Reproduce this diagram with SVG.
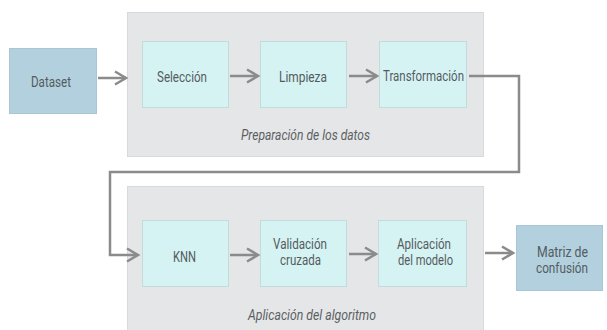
<svg xmlns="http://www.w3.org/2000/svg" width="607" height="330" viewBox="0 0 607 330">
<style>
.panel{fill:#e4e6e8;stroke:#d7d9db;stroke-width:1}
.step{fill:#d6f3f3;stroke:#c2dcdc;stroke-width:1}
.io{fill:#b2d0de;stroke:#a8c6d4;stroke-width:1}
text{font-family:Roboto,"Liberation Sans",sans-serif;font-size:14px;fill:#545b5f;text-anchor:middle}
.cap{font-style:italic;font-size:14px;fill:#5c5f62}
.conn{fill:none;stroke:#8b8b8b;stroke-width:2.5}
</style>
<defs>
<marker id="arr" markerUnits="userSpaceOnUse" markerWidth="16" markerHeight="16" viewBox="0 0 16 16" refX="13" refY="8" orient="auto">
<path d="M2,1.5 L13,8 L2,14.5" fill="none" stroke="#8b8b8b" stroke-width="2.5"/>
</marker>
</defs>
<g id="panel-preparacion">
<rect class="panel" x="127.5" y="12.5" width="356" height="144"/>
<text class="cap" x="305.5" y="139.5" textLength="129" lengthAdjust="spacingAndGlyphs">Preparación de los datos</text>
</g>
<g id="panel-aplicacion">
<rect class="panel" x="127.5" y="186.5" width="356" height="145"/>
<text class="cap" x="312" y="320" textLength="128" lengthAdjust="spacingAndGlyphs">Aplicación del algoritmo</text>
</g>
<g id="dataset">
<rect class="io" x="9.5" y="48.5" width="87" height="65"/>
<text x="51" y="87" textLength="40" lengthAdjust="spacingAndGlyphs">Dataset</text>
</g>
<g id="seleccion">
<rect class="step" x="142.5" y="41.5" width="86" height="66"/>
<text x="182" y="81.5" textLength="50" lengthAdjust="spacingAndGlyphs">Selección</text>
</g>
<g id="limpieza">
<rect class="step" x="260.5" y="41.5" width="86" height="66"/>
<text x="303" y="81.5" textLength="48" lengthAdjust="spacingAndGlyphs">Limpieza</text>
</g>
<g id="transformacion">
<rect class="step" x="379.5" y="41.5" width="87" height="66"/>
<text x="423.5" y="81" textLength="81" lengthAdjust="spacingAndGlyphs">Transformación</text>
</g>
<g id="knn">
<rect class="step" x="142.5" y="220.5" width="86" height="66"/>
<text x="184.5" y="262" textLength="23" lengthAdjust="spacingAndGlyphs">KNN</text>
</g>
<g id="validacion">
<rect class="step" x="260.5" y="220.5" width="86" height="66"/>
<text x="300" y="249" textLength="54" lengthAdjust="spacingAndGlyphs">Validación</text>
<text x="300.5" y="264.5" textLength="41" lengthAdjust="spacingAndGlyphs">cruzada</text>
</g>
<g id="aplicacion-modelo">
<rect class="step" x="378.5" y="220.5" width="88" height="66"/>
<text x="424" y="249" textLength="54" lengthAdjust="spacingAndGlyphs">Aplicación</text>
<text x="425.5" y="264.5" textLength="55" lengthAdjust="spacingAndGlyphs">del modelo</text>
</g>
<g id="matriz">
<rect class="io" x="516.5" y="225.5" width="86" height="65"/>
<text x="562.5" y="257" textLength="51" lengthAdjust="spacingAndGlyphs">Matriz de</text>
<text x="562" y="273" textLength="52" lengthAdjust="spacingAndGlyphs">confusión</text>
</g>
<g id="connectors">
<path class="conn" d="M98,78 L126,78" marker-end="url(#arr)"/>
<path class="conn" d="M230,76 L258,76" marker-end="url(#arr)"/>
<path class="conn" d="M349,76 L377,76" marker-end="url(#arr)"/>
<path class="conn" d="M469,76 L519,76 L519,172 L110,172 L110,255 L138,255" marker-end="url(#arr)"/>
<path class="conn" d="M230,255 L258,255" marker-end="url(#arr)"/>
<path class="conn" d="M349,254 L376,254" marker-end="url(#arr)"/>
<path class="conn" d="M485,253 L513,253" marker-end="url(#arr)"/>
</g>
</svg>
